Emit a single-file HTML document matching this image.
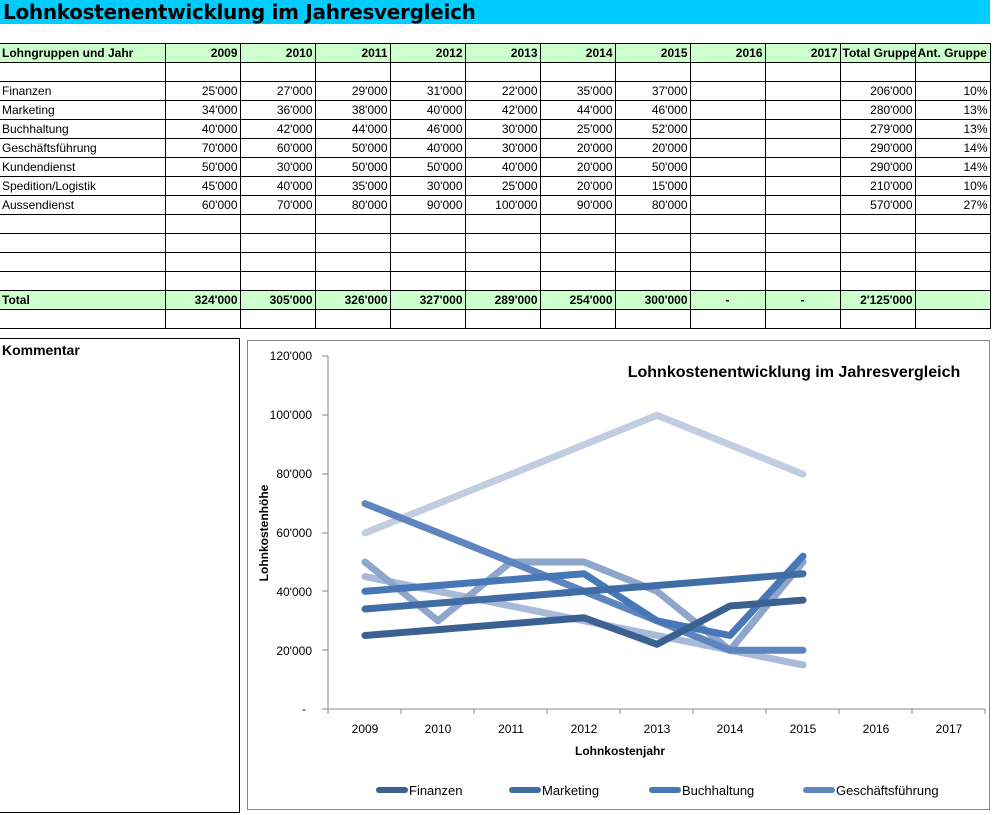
<!DOCTYPE html>
<html><head><meta charset="utf-8"><style>
body{margin:0;width:995px;height:815px;background:#fff;font-family:"Liberation Sans",sans-serif;position:relative;overflow:hidden}
.title{position:absolute;left:0;top:0;width:990px;height:24px;background:#00ccff;font:bold 20px "DejaVu Sans","Liberation Sans",sans-serif;line-height:24px;padding-left:3px;box-sizing:border-box;letter-spacing:-0.3px}
table{position:absolute;left:0;top:43px;width:990px;border-collapse:collapse;font-size:12px;table-layout:fixed}
td{height:19px;border:1px solid #000;padding:0 2px;text-align:right;white-space:nowrap;overflow:hidden;line-height:18px;box-sizing:border-box}
td:first-child{text-align:left;border-left:none}
tr.h td,tr.t td{background:#ccffcc;font-weight:bold}
.box{position:absolute;border:1px solid #000}
</style></head><body>
<div class="title">Lohnkostenentwicklung im Jahresvergleich</div>
<table>
<colgroup><col style="width:165px"><col style="width:75px"><col style="width:75px"><col style="width:75px"><col style="width:75px"><col style="width:75px"><col style="width:75px"><col style="width:75px"><col style="width:75px"><col style="width:75px"><col style="width:75px"><col style="width:75px"></colgroup>
<tr class="h"><td>Lohngruppen und Jahr</td><td>2009</td><td>2010</td><td>2011</td><td>2012</td><td>2013</td><td>2014</td><td>2015</td><td>2016</td><td>2017</td><td style="text-align:left">Total Gruppe</td><td style="text-align:left">Ant. Gruppe</td></tr>
<tr><td></td><td></td><td></td><td></td><td></td><td></td><td></td><td></td><td></td><td></td><td></td><td></td></tr>
<tr><td>Finanzen</td><td>25'000</td><td>27'000</td><td>29'000</td><td>31'000</td><td>22'000</td><td>35'000</td><td>37'000</td><td></td><td></td><td>206'000</td><td>10%</td></tr>
<tr><td>Marketing</td><td>34'000</td><td>36'000</td><td>38'000</td><td>40'000</td><td>42'000</td><td>44'000</td><td>46'000</td><td></td><td></td><td>280'000</td><td>13%</td></tr>
<tr><td>Buchhaltung</td><td>40'000</td><td>42'000</td><td>44'000</td><td>46'000</td><td>30'000</td><td>25'000</td><td>52'000</td><td></td><td></td><td>279'000</td><td>13%</td></tr>
<tr><td>Geschäftsführung</td><td>70'000</td><td>60'000</td><td>50'000</td><td>40'000</td><td>30'000</td><td>20'000</td><td>20'000</td><td></td><td></td><td>290'000</td><td>14%</td></tr>
<tr><td>Kundendienst</td><td>50'000</td><td>30'000</td><td>50'000</td><td>50'000</td><td>40'000</td><td>20'000</td><td>50'000</td><td></td><td></td><td>290'000</td><td>14%</td></tr>
<tr><td>Spedition/Logistik</td><td>45'000</td><td>40'000</td><td>35'000</td><td>30'000</td><td>25'000</td><td>20'000</td><td>15'000</td><td></td><td></td><td>210'000</td><td>10%</td></tr>
<tr><td>Aussendienst</td><td>60'000</td><td>70'000</td><td>80'000</td><td>90'000</td><td>100'000</td><td>90'000</td><td>80'000</td><td></td><td></td><td>570'000</td><td>27%</td></tr>
<tr><td></td><td></td><td></td><td></td><td></td><td></td><td></td><td></td><td></td><td></td><td></td><td></td></tr>
<tr><td></td><td></td><td></td><td></td><td></td><td></td><td></td><td></td><td></td><td></td><td></td><td></td></tr>
<tr><td></td><td></td><td></td><td></td><td></td><td></td><td></td><td></td><td></td><td></td><td></td><td></td></tr>
<tr><td></td><td></td><td></td><td></td><td></td><td></td><td></td><td></td><td></td><td></td><td></td><td></td></tr>
<tr class="t"><td>Total</td><td>324'000</td><td>305'000</td><td>326'000</td><td>327'000</td><td>289'000</td><td>254'000</td><td>300'000</td><td style="text-align:center">-</td><td style="text-align:center">-</td><td>2'125'000</td><td></td></tr>
<tr><td></td><td></td><td></td><td></td><td></td><td></td><td></td><td></td><td></td><td></td><td></td><td></td></tr>
</table>
<div class="box" style="left:0;top:338px;width:239px;height:473px;border-left:none"><div style="font-weight:bold;font-size:14px;padding:3px 2px">Kommentar</div></div>
<svg style="position:absolute;left:0;top:0" width="995" height="815" font-family="Liberation Sans,sans-serif">
<rect x="247.5" y="340.5" width="742" height="469" fill="#fff" stroke="#888"/>
<g font-size="12" fill="#000" text-anchor="end">
<text x="312" y="360">120'000</text><text x="312" y="419">100'000</text><text x="312" y="478">80'000</text><text x="312" y="537">60'000</text><text x="312" y="596">40'000</text><text x="312" y="655">20'000</text><text x="306" y="713">-</text>
</g>
<g stroke="#888" fill="none"><path d="M328 356V709H985"/>
<path d="M322 356h6M322 415h6M322 474h6M322 533h6M322 591h6M322 650h6M322 709h6"/>
<path d="M328 709v5M401 709v5M474 709v5M547 709v5M620 709v5M693 709v5M766 709v5M839 709v5M912 709v5M985 709v5"/></g>
<g font-size="12" text-anchor="middle"><text x="365" y="733">2009</text><text x="438" y="733">2010</text><text x="511" y="733">2011</text><text x="584" y="733">2012</text><text x="657" y="733">2013</text><text x="730" y="733">2014</text><text x="803" y="733">2015</text><text x="876" y="733">2016</text><text x="949" y="733">2017</text></g>
<text x="620" y="755" font-size="12" font-weight="bold" text-anchor="middle">Lohnkostenjahr</text>
<text transform="translate(268 533) rotate(-90)" font-size="12" font-weight="bold" text-anchor="middle">Lohnkostenhöhe</text>
<text x="794" y="377" font-size="16" font-weight="bold" text-anchor="middle">Lohnkostenentwicklung  im Jahresvergleich</text>
<g fill="none" stroke-width="7" stroke-linecap="round" stroke-linejoin="round">
<polyline stroke="#c2cde2" points="365,533 438,503.6 511,474.2 584,444.8 657,415.3 730,444.8 803,474.2"/>
<polyline stroke="#a9b9d8" points="365,576.6 438,591.3 511,606 584,620.8 657,635.5 730,650.2 803,664.9"/>
<polyline stroke="#8ea6cc" points="365,562 438,620.8 511,562 584,562 657,591.3 730,650.2 803,562"/>
<polyline stroke="#5d85c0" points="365,503.6 438,532.6 511,562 584,591.3 657,620.8 730,650.2 803,650.2"/>
<polyline stroke="#4777b6" points="365,591.3 438,585.5 511,579.6 584,573.7 657,620.8 730,635.5 803,556.1"/>
<polyline stroke="#416da6" points="365,609 438,603.1 511,597.2 584,591.3 657,585.5 730,579.6 803,573.7"/>
<polyline stroke="#3a6192" points="365,635.5 438,629.6 511,623.7 584,617.8 657,644.3 730,606 803,600.1"/>
</g>
<g stroke-width="6" stroke-linecap="round" font-size="13">
<line x1="379" y1="790" x2="405" y2="790" stroke="#3a6192"/><text x="409" y="795">Finanzen</text>
<line x1="512" y1="790" x2="538" y2="790" stroke="#416da6"/><text x="542" y="795">Marketing</text>
<line x1="652" y1="790" x2="678" y2="790" stroke="#4777b6"/><text x="682" y="795">Buchhaltung</text>
<line x1="806" y1="790" x2="832" y2="790" stroke="#5d85c0"/><text x="836" y="795">Geschäftsführung</text>
</g>
</svg>
</body></html>
